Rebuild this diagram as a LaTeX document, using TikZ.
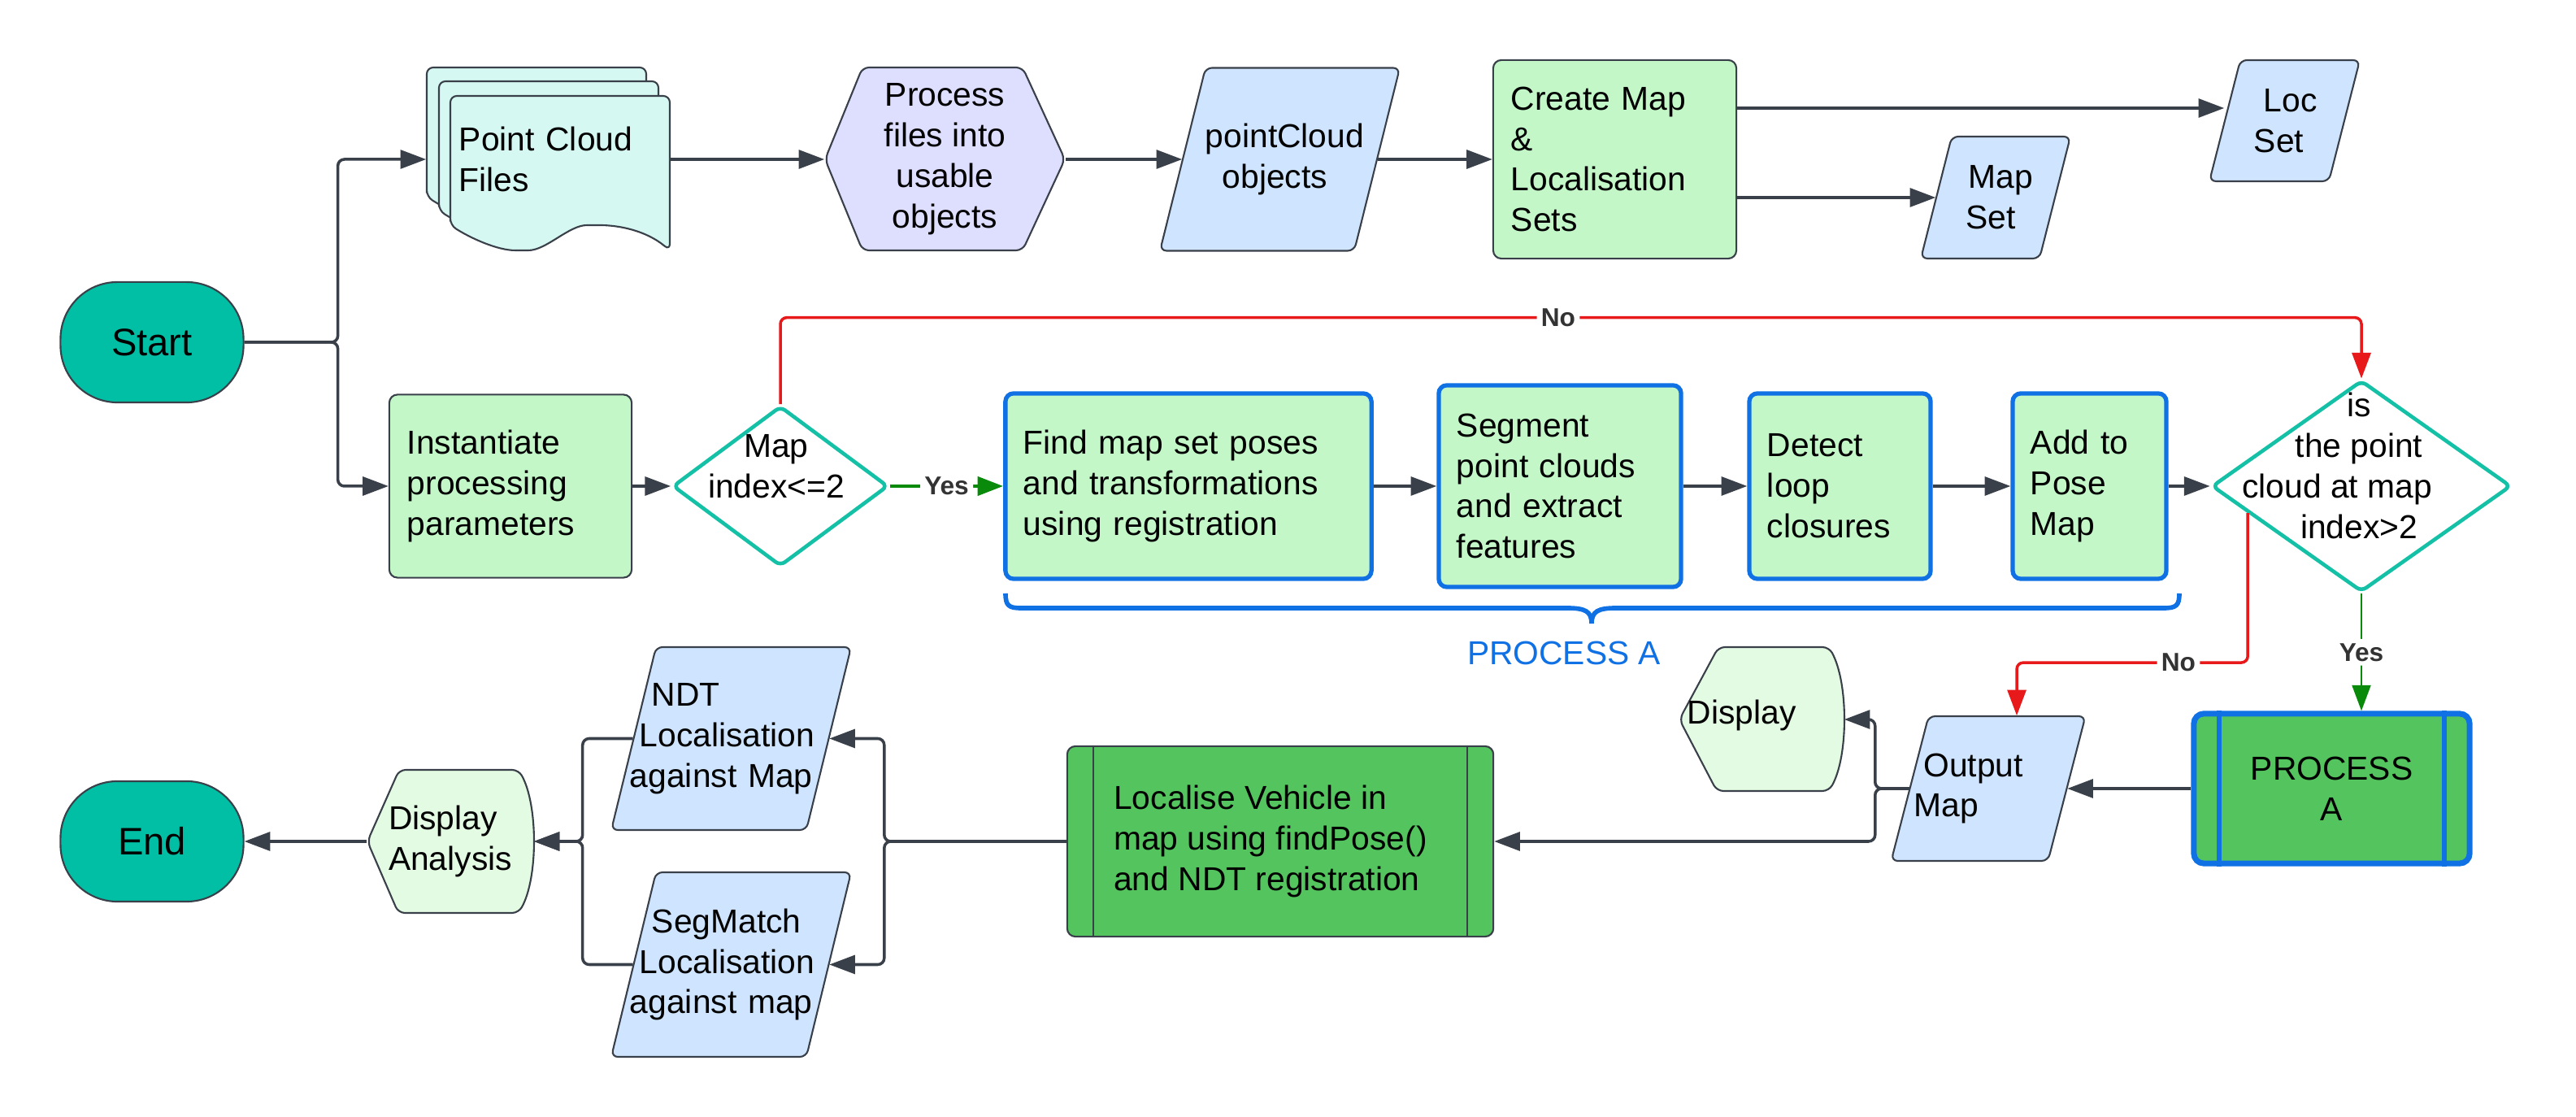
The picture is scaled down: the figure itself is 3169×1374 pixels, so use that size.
\documentclass[tikz,border=0pt]{standalone}
\usepackage{fontspec}
\setmainfont{Liberation Sans}
\usetikzlibrary{shapes.geometric,arrows.meta,calc}
\definecolor{lnk}{HTML}{3A4049}
\definecolor{teal1}{HTML}{00BFA5}
\definecolor{tealb}{HTML}{14C0A6}
\definecolor{lgreen}{HTML}{C3F7C8}
\definecolor{dgreen}{HTML}{54C45E}
\definecolor{lblue}{HTML}{CFE4FF}
\definecolor{lav}{HTML}{DEDEFF}
\definecolor{lcyan}{HTML}{D6F8F2}
\definecolor{dispc}{HTML}{E3FAE3}
\definecolor{bblue}{HTML}{1071E5}
\definecolor{rline}{HTML}{E8191A}
\definecolor{gline}{HTML}{0A8A0A}
\definecolor{lbltxt}{HTML}{333333}
\newcommand\parashape[5]{\draw[shp, fill=lblue] ({#1-#3/2-#5/2},{#2+#4/2}) -- ({#1-#3/2+#5/2},{#2-#4/2}) -- ({#1+#3/2+#5/2},{#2-#4/2}) -- ({#1+#3/2-#5/2},{#2+#4/2}) -- cycle;}
\begin{document}
\begin{tikzpicture}[x=0.01cm,y=-0.01cm,
  font=\fontsize{11.6}{14.2}\selectfont,
  term/.style={draw=lnk, line width=0.6pt, fill=teal1, rounded corners=0.7cm, minimum width=2.25cm, minimum height=1.48cm, font=\fontsize{13.4}{16}\selectfont},
  proc/.style={draw=lnk, line width=0.6pt, fill=lgreen, rounded corners=0.1cm, inner xsep=0.22cm, inner ysep=0, align=left},
  bproc/.style={proc, draw=bblue, line width=1.5pt},
  dec/.style={diamond, draw=tealb, line width=1.3pt, fill=white, inner sep=0, rounded corners=2pt},
  shp/.style={draw=lnk, line width=0.6pt, rounded corners=0.08cm},
  anch/.style={inner sep=0, align=center},
  arr/.style={draw=lnk, line width=1pt, rounded corners=0.08cm, -{Triangle[length=9pt,width=6.5pt]}},
  rarr/.style={arr, draw=rline},
  garr/.style={arr, draw=gline, line width=1.4pt},
  garrb/.style={arr, draw=gline, line width=0.8pt},
  lbl/.style={fill=white, text=lbltxt, font=\fontsize{9}{10}\selectfont\bfseries, inner sep=1.5pt}
]
\useasboundingbox (0,0) rectangle (3169,1374);

% ---- background shapes ----
\foreach \L/\T in {525/83, 540/100, 554/118} {
  \draw[shp, fill=lcyan] (\L,\T+159) -- (\L,\T) -- (\L+270,\T) -- (\L+270,\T+190)
    .. controls (\L+240,\T+165) and (\L+206,\T+159) .. (\L+176,\T+159)
    .. controls (\L+146,\T+159) and (\L+118,\T+190) .. (\L+88,\T+190)
    .. controls (\L+58,\T+190) and (\L+25,\T+175) .. (\L,\T+159) -- cycle;
}
\draw[shp, fill=lav] (1015,196) -- (1061,83) -- (1258,83) -- (1310,196) -- (1258,308) -- (1061,308) -- cycle;
\parashape{1574.5}{196}{239}{225}{56}
\parashape{2455}{243}{146}{150}{38}
\parashape{2810.5}{148.5}{147}{149}{38}
\parashape{2446}{970}{193}{178}{46}
\parashape{899.5}{908.5}{240}{225}{55}
\parashape{899.5}{1186.5}{240}{227}{55}
\draw[shp, fill=dispc] (2066,885) -- (2114,796) -- (2250,796) .. controls (2274,840) and (2274,930) .. (2250,973) -- (2112,973) -- cycle;
\draw[shp, fill=dispc] (452,1035) -- (491,947) -- (638,947) .. controls (662,990) and (662,1080) .. (638,1123) -- (490,1123) -- cycle;

% ---- nodes ----
\node[term] (start) at (187,421) {Start};
\node[term] (endn) at (187,1035) {End};
\node[anch, minimum width=2.99cm, minimum height=2.26cm, text width=2.19cm, inner xsep=0.4cm, align=left] (pcf) at (674.5,196) {Point Cloud\\Files};
\node[anch, minimum width=2.95cm, minimum height=2.25cm] (hex) at (1162.5,196) {Process\\files into\\usable\\objects};
\node[anch, minimum width=2.39cm, minimum height=2.25cm] (pco) at (1574.5,196) {\kern0.12cm pointCloud\\objects\kern0.12cm};
\node[proc, text width=2.55cm, minimum height=2.44cm] (cm) at (1986.5,196) {Create Map\\\&\\Localisation\\Sets};
\node[anch, minimum width=1.46cm, minimum height=1.5cm] (mset) at (2455,243) {\kern0.12cm Map\\Set\kern0.12cm};
\node[anch, minimum width=1.47cm, minimum height=1.49cm] (lset) at (2810.5,148.5) {\kern0.14cm Loc\\Set\kern0.14cm};

\node[proc, text width=2.54cm, minimum height=2.25cm] (inst) at (628,598) {Instantiate\\processing\\parameters};
\node[dec, minimum width=2.65cm, minimum height=1.97cm] (d1) at (960,598) {};
\node[align=center, inner sep=0] (d1t) at (955,574) {Map\\index<=2};
\node[bproc, text width=4.06cm, minimum height=2.28cm] (find) at (1462,598) {Find map set poses\\and transformations\\using registration};
\node[bproc, text width=2.54cm, minimum height=2.48cm] (seg) at (1919,598) {Segment\\point clouds\\and extract\\features};
\node[bproc, text width=1.79cm, minimum height=2.28cm] (det) at (2263.5,598) {Detect\\loop\\closures};
\node[bproc, text width=1.45cm, minimum height=2.28cm] (add) at (2570.5,598) {Add to\\Pose\\Map};
\node[dec, minimum width=3.68cm, minimum height=2.6cm] (d2) at (2905,598) {};
\node[align=center, inner sep=0] (d2t) at (2902,573) {is\\the point\\cloud at map\kern0.54cm\\index>2};

\node[draw=bblue, line width=2pt, fill=dgreen, rounded corners=0.12cm, minimum width=3.39cm, minimum height=1.84cm, align=center] (pa) at (2868.5,970) {PROCESS\\A};
\node[anch, minimum width=1.93cm, minimum height=1.78cm, text width=1.83cm, inner xsep=0.05cm, align=left] (om) at (2446,970) {\hspace*{0.12cm}Output\\Map};
\node[anch, minimum width=2.02cm, minimum height=1.77cm] (disp) at (2167,885) {};
\node[anchor=west, inner sep=0] (disptxt) at (2075,880) {Display};
\node[draw=lnk, line width=0.6pt, fill=dgreen, rounded corners=0.1cm, minimum width=5.24cm, minimum height=2.34cm, align=left] (loc) at (1575,1035) {Localise Vehicle in\\map using findPose()\kern0.24cm\\and NDT registration};
\node[anch, minimum width=2.4cm, minimum height=2.25cm, text width=2.4cm, align=left] (ndt) at (899.5,908.5) {\hspace*{0.225cm}NDT\\\hspace*{0.075cm}Localisation\\\hspace*{-0.045cm}against Map};
\node[anch, minimum width=2.4cm, minimum height=2.27cm, text width=2.4cm, align=left] (segm) at (899.5,1186.5) {\hspace*{0.225cm}SegMatch\\\hspace*{0.075cm}Localisation\\\hspace*{-0.045cm}against map};
\node[anch, minimum width=2.04cm, minimum height=1.76cm, align=left] (da) at (554,1035) {Display\\Analysis};

% predefined-process inner lines
\draw[lnk, line width=0.6pt] ([xshift=0.33cm]loc.north west) -- ([xshift=0.33cm]loc.south west);
\draw[lnk, line width=0.6pt] ([xshift=-0.33cm]loc.north east) -- ([xshift=-0.33cm]loc.south east);
\draw[bblue, line width=1.7pt] ([xshift=0.35cm]pa.north west) -- ([xshift=0.35cm]pa.south west);
\draw[bblue, line width=1.7pt] ([xshift=-0.35cm]pa.north east) -- ([xshift=-0.35cm]pa.south east);

% brace
\draw[bblue, line width=1.6pt] (1237,730) .. controls (1237,745) and (1241,748) .. (1256,748) -- (1928,748)
  .. controls (1950,748) and (1958,752) .. (1958,767) .. controls (1958,752) and (1966,748) .. (1988,748)
  -- (2662,748) .. controls (2677,748) and (2681,745) .. (2681,730);
\node[text=bblue] (palbl) at (1924,803) {PROCESS A};

% ---- connectors ----
\coordinate (cmtop) at ($(cm.east)+(0,-63)$);
\coordinate (cmbot) at ($(cm.east)+(0,47)$);
\coordinate (d2no) at ($(d2.west)!0.25!(d2.south)$);
\draw[arr] (start.east) -- ++(115,0) |- (pcf.west);
\draw[arr] (start.east) -- ++(115,0) |- (inst.west);
\draw[arr] (pcf.east) -- (hex.west);
\draw[arr] (hex.east) -- (pco.west);
\draw[arr] (pco.east) -- (cm.west);
\draw[arr] (cmtop) -- (cmtop -| lset.west);
\draw[arr] (cmbot) -- (cmbot -| mset.west);
\draw[arr] (inst.east) -- (d1.west);
\draw[garr] (d1.east) -- node[lbl]{Yes} (find.west);
\draw[arr] (find.east) -- (seg.west);
\draw[arr] (seg.east) -- (det.west);
\draw[arr] (det.east) -- (add.west);
\draw[arr] (add.east) -- (d2.west);
\draw[rarr] (d1.north) |- node[lbl, pos=0.746]{No} ($(d2.north)+(0,-75)$) -- (d2.north);
\draw[rarr] (d2no) -- ++(0,184) -| node[lbl, pos=0.15]{No} ([xshift=0.35cm]om.north);
\draw[garrb] (d2.south) -- node[lbl]{Yes} (d2.south |- pa.north);
\draw[arr] (pa.west) -- (om.east);
\draw[arr] (om.west) -- ++(-42,0) |- (disp.east);
\draw[arr] (om.west) -- ++(-42,0) |- (loc.east);
\draw[arr] (loc.west) -- ++(-224,0) |- (ndt.east);
\draw[arr] (loc.west) -- ++(-224,0) |- (segm.east);
\draw[arr] (ndt.west) -- ++(-62,0) |- (da.east);
\draw[arr] (segm.west) -- ++(-62,0) |- (da.east);
\draw[arr] (da.west) -- (endn.east);
\end{tikzpicture}
\end{document}
